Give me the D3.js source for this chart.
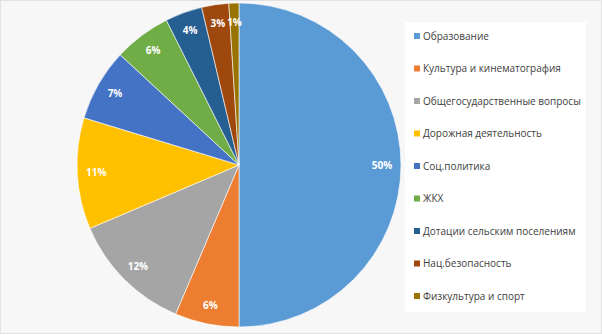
<!DOCTYPE html>
<html>
<head>
<meta charset="utf-8">
<script src="https://cdn.jsdelivr.net/npm/d3@7"></script>
<style>
  body { margin: 0; background: #ffffff; }
  svg { display: block; }
  .slice-label { font-family: "Open Sans", sans-serif; font-size: 10px; font-weight: bold; fill: #ffffff; }
  .legend-label { font-family: "Open Sans", sans-serif; font-size: 10px; fill: #404040; }
</style>
</head>
<body>
<div id="chart"></div>
<script>
// expenditure shares, clockwise from 12 o'clock
const categories = [
  'Образование',
  'Культура и кинематография',
  'Общегосударственные вопросы',
  'Дорожная деятельность',
  'Соц.политика',
  'ЖКХ',
  'Дотации сельским поселениям',
  'Нац.безопасность',
  'Физкультура и спорт'
];
const shares = [50.0, 6.4, 12.2, 11.1, 7.2, 5.7, 3.7, 2.7, 1.0];
const sliceColors = ['#5b9bd5', '#ed7d31', '#a5a5a5', '#ffc000', '#4472c4', '#70ad47', '#255e91', '#9e480e', '#997300'];

const width = 602, height = 335;
const cx = 239, cy = 165, radius = 162;

const data = categories.map((c, i) => ({ name: c, value: shares[i], color: sliceColors[i] }));
const total = d3.sum(shares);

const svg = d3.select('#chart').append('svg')
  .attr('width', width)
  .attr('height', height);

// chart area background and frame
svg.append('rect')
  .attr('x', 0.5).attr('y', 0.5)
  .attr('width', width - 1).attr('height', height - 2)
  .attr('fill', '#f7f7f7')
  .attr('stroke', '#e2e2e2');

const pie = d3.pie().sort(null).value(d => d.value);
const arc = d3.arc().innerRadius(0).outerRadius(radius);
const labelArc = d3.arc().innerRadius(143).outerRadius(143);

const g = svg.append('g').attr('transform', `translate(${cx},${cy})`);
const arcs = pie(data);

g.selectAll('.slice')
  .data(arcs)
  .join('path')
  .attr('class', 'slice')
  .attr('d', arc)
  .attr('fill', d => d.data.color)
  .attr('stroke', '#ffffff')
  .attr('stroke-width', 0.6);

g.selectAll('.slice-label')
  .data(arcs)
  .join('text')
  .attr('class', 'slice-label')
  .attr('text-anchor', 'middle')
  .attr('dy', '.35em')
  .attr('transform', d => `translate(${labelArc.centroid(d)})`)
  .text(d => Math.round(d.data.value / total * 100) + '%');

// legend
const legend = svg.append('g').attr('class', 'legend');
legend.append('rect')
  .attr('x', 405).attr('y', 22)
  .attr('width', 181).attr('height', 290)
  .attr('fill', '#ffffff');

const legendY = d3.scalePoint()
  .domain(categories)
  .range([36, 296]);

const items = legend.selectAll('.legend-item')
  .data(data)
  .join('g')
  .attr('class', 'legend-item')
  .attr('transform', d => `translate(414,${legendY(d.name)})`);

items.append('rect')
  .attr('x', 0).attr('y', -3)
  .attr('width', 6).attr('height', 6)
  .attr('fill', d => d.color);

items.append('text')
  .attr('class', 'legend-label')
  .attr('x', 9)
  .attr('dy', '.35em')
  .text(d => d.name);
</script>
</body>
</html>
